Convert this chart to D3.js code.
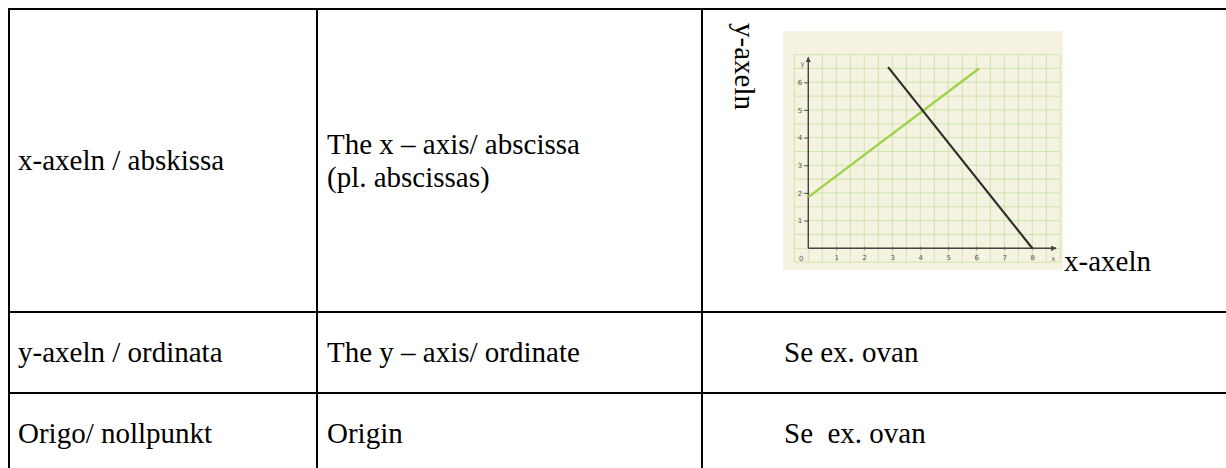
<!DOCTYPE html>
<html>
<head>
<meta charset="utf-8">
<script src="https://cdn.jsdelivr.net/npm/d3@7"></script>
<style>
  html, body { margin: 0; padding: 0; background: #fff; }
  svg { display: block; }
  .serif { font-family: "Liberation Serif", "Times New Roman", serif; font-size: 29px; }
</style>
</head>
<body>
<div id="container"></div>
<script>
/**
 * DATA
 * */
const terms = ["x-axeln / abskissa", "y-axeln / ordinata", "Origo/ nollpunkt"];
const translations = [["The x \u2013 axis/ abscissa", "(pl. abscissas)"], ["The y \u2013 axis/ ordinate"], ["Origin"]];
const notes = [null, "Se ex. ovan", "Se\u00a0 ex. ovan"];

const xTicks = [1, 2, 3, 4, 5, 6, 7, 8];
const yTicks = [1, 2, 3, 4, 5, 6];
const greenLine = [{x: 0, y: 1.85}, {x: 6.1, y: 6.5}];
const blackLine = [{x: 2.85, y: 6.55}, {x: 8.0, y: 0}];

/**
 * CONSTANTS
 * */
const width = 1226, height = 468;
const colX = [9, 317, 702, 1240];
const rowY = [9, 312, 393, 474];

const svg = d3.select("#container")
  .append("svg")
  .attr("width", width)
  .attr("height", height);

/**
 * TABLE
 * */
const grid = svg.append("g").attr("stroke", "#000").attr("stroke-width", 2);
rowY.forEach(y => grid.append("line").attr("x1", colX[0] - 1).attr("x2", width).attr("y1", y).attr("y2", y));
colX.forEach(x => grid.append("line").attr("x1", x).attr("x2", x).attr("y1", rowY[0] - 1).attr("y2", height + 10));

const rows = svg.selectAll("g.row")
  .data(terms)
  .join("g")
  .attr("class", "row");

rows.append("text")
  .attr("class", "serif")
  .attr("x", colX[0] + 9)
  .attr("y", (d, i) => (rowY[i] + rowY[i + 1]) / 2)
  .attr("dy", "0.33em")
  .text(d => d);

rows.each(function(d, i) {
  const lines = translations[i];
  const mid = (rowY[i] + rowY[i + 1]) / 2;
  d3.select(this).selectAll("text.tr")
    .data(lines)
    .join("text")
    .attr("class", "tr serif")
    .attr("x", colX[1] + 10)
    .attr("y", (l, j) => mid + (j - (lines.length - 1) / 2) * 33)
    .attr("dy", "0.33em")
    .text(l => l);
  if (notes[i]) {
    d3.select(this).append("text")
      .attr("class", "serif")
      .attr("x", 784)
      .attr("y", mid)
      .attr("dy", "0.33em")
      .style("white-space", "pre")
      .text(notes[i]);
  }
});

/**
 * CHART
 * */
const x = d3.scaleLinear().domain([0, 8]).range([808.3, 1032.3]);
const y = d3.scaleLinear().domain([0, 6]).range([248.3, 82.3]);

const chart = svg.append("g");

chart.append("rect")
  .attr("x", x(-0.9)).attr("y", y(7.85))
  .attr("width", x(9.1) - x(-0.9))
  .attr("height", y(-0.78) - y(7.85))
  .attr("fill", "#f6f2e2");

const minor = d3.range(-0.5, 9.01, 0.5);
const minorY = d3.range(-0.5, 7.01, 0.5);
chart.append("g")
  .attr("stroke", "#c4e2a0")
  .attr("stroke-width", 0.8)
  .selectAll("line.v")
  .data(minor)
  .join("line")
  .attr("x1", d => x(d)).attr("x2", d => x(d))
  .attr("y1", y(7)).attr("y2", y(-0.5));
chart.append("g")
  .attr("stroke", "#c4e2a0")
  .attr("stroke-width", 0.8)
  .selectAll("line.h")
  .data(minorY)
  .join("line")
  .attr("y1", d => y(d)).attr("y2", d => y(d))
  .attr("x1", x(-0.5)).attr("x2", x(9));

// axes with arrows
const defs = svg.append("defs");
defs.append("marker")
  .attr("id", "arrow")
  .attr("viewBox", "0 0 10 10")
  .attr("refX", 9).attr("refY", 5)
  .attr("markerWidth", 4).attr("markerHeight", 4)
  .attr("orient", "auto")
  .append("path")
  .attr("d", "M0,0L10,5L0,10Z")
  .attr("fill", "#444");

chart.append("line")
  .attr("x1", x(0)).attr("y1", y(0)).attr("x2", x(8.85)).attr("y2", y(0))
  .attr("stroke", "#444").attr("stroke-width", 1.4)
  .attr("marker-end", "url(#arrow)");
chart.append("line")
  .attr("x1", x(0)).attr("y1", y(0)).attr("x2", x(0)).attr("y2", y(6.9))
  .attr("stroke", "#444").attr("stroke-width", 1.4)
  .attr("marker-end", "url(#arrow)");

const xAxis = d3.axisBottom(x).tickValues(xTicks).tickFormat(d3.format("d")).tickSize(3).tickPadding(4);
const yAxis = d3.axisLeft(y).tickValues(yTicks).tickFormat(d3.format("d")).tickSize(4).tickPadding(2);

const gx = chart.append("g").attr("transform", `translate(0,${y(0)})`).call(xAxis);
const gy = chart.append("g").attr("transform", `translate(${x(0)},0)`).call(yAxis);
[gx, gy].forEach(g => {
  g.select(".domain").remove();
  g.selectAll(".tick line").attr("stroke", "#555").attr("stroke-width", 1);
  g.selectAll(".tick text")
    .attr("fill", "#555")
    .style("font-family", "'DejaVu Sans', sans-serif")
    .style("font-size", "7px");
});
gx.selectAll(".tick line").attr("transform", "translate(0,-1.5)");

chart.append("text")
  .attr("x", x(-0.25)).attr("y", y(0) + 13)
  .attr("text-anchor", "middle")
  .attr("fill", "#666").style("font-family", "'DejaVu Sans', sans-serif").style("font-size", "7px")
  .text("0");
chart.append("text")
  .attr("x", x(8.75)).attr("y", y(0) + 13)
  .attr("text-anchor", "middle")
  .attr("fill", "#666").style("font-family", "'DejaVu Sans', sans-serif").style("font-size", "7px")
  .text("x");
chart.append("text")
  .attr("x", x(-0.2)).attr("y", y(6.6))
  .attr("text-anchor", "middle")
  .attr("fill", "#666").style("font-family", "'DejaVu Sans', sans-serif").style("font-size", "7px")
  .text("y");

const line = d3.line().x(d => x(d.x)).y(d => y(d.y));
chart.append("path")
  .datum(greenLine)
  .attr("d", line)
  .attr("fill", "none")
  .attr("stroke", "#9fd24a")
  .attr("stroke-width", 2.4);
chart.append("path")
  .datum(blackLine)
  .attr("d", line)
  .attr("fill", "none")
  .attr("stroke", "#2e2e2e")
  .attr("stroke-width", 2.2);

// axis labels next to the picture
svg.append("text")
  .attr("class", "serif")
  .attr("transform", "translate(735,23) rotate(90)")
  .text("y-axeln");
svg.append("text")
  .attr("class", "serif")
  .attr("x", 1064)
  .attr("y", 271)
  .text("x-axeln");
</script>
</body>
</html>
